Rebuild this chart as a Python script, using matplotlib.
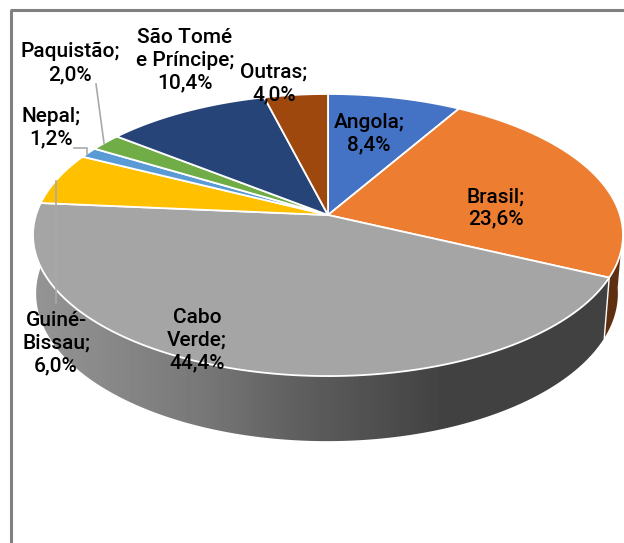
import numpy as np
import matplotlib
matplotlib.use('Agg')
import matplotlib.pyplot as plt
from matplotlib.patches import Polygon

# dados
labels = ['Angola;', 'Brasil;', 'Cabo\nVerde;', 'Guiné-\nBissau;', 'Nepal;',
          'Paquistão;', 'São Tomé\ne Príncipe;', 'Outras;']
values = [8.4, 23.6, 44.4, 6.0, 1.2, 2.0, 10.4, 4.0]
colors = ['#4472c4', '#ed7d31', '#a5a5a5', '#ffc000', '#5b9bd5', '#70ad47', '#264478', '#9e480e']
wall_colors = {1: '#5e2f10'}

# posicao dos rotulos
label_x = [369, 496, 197, 56, 51, 70, 185, 274]
label_y = [134, 208, 340, 343, 128, 63, 60, 83]

# geometria da pizza em perspectiva
cx, cy = 328, 215
a, b, k = 292, 138.2, 0.142
depth = 57.5
scale_x, scale_y = 0.986, 1.047


def project(theta, r=1.0, bottom=False):
    u = r * np.sin(theta)
    v = r * np.cos(theta)
    w = 1 + k * v
    x = a * u / w
    y = b * v / w
    if bottom:
        return cx - 1 + scale_x * x, cy - scale_y * y + depth
    return cx + x, cy - y


fig = plt.figure(figsize=(6.24, 5.43), dpi=100)
ax = fig.add_axes([0, 0, 1, 1])
ax.set_xlim(0, 624)
ax.set_ylim(543, 0)
ax.axis('off')

edges = np.radians(np.cumsum([0] + values) * 3.6)

# parede lateral (Cabo Verde com gradiente)
t = np.linspace(edges[2], edges[3], 200)
xt, yt = project(t)
xb, yb = project(t, bottom=True)
wall = Polygon(np.column_stack([np.r_[xt, xb[::-1]], np.r_[yt, yb[::-1]]]),
               closed=True, transform=ax.transData, fc='none', ec='none')
ax.add_patch(wall)
grad_x = np.arange(0, 624)
grad = np.interp(grad_x, [35, 100, 200, 300, 440, 624], [0.58, 0.54, 0.47, 0.37, 0.26, 0.26])
img = ax.imshow(grad[np.newaxis, :], cmap='gray', vmin=0, vmax=1, extent=[0, 624, 543, 0],
                aspect='auto', zorder=1)
img.set_clip_path(wall)

# parede lateral do Brasil
t = np.linspace(np.radians(96), edges[2], 60)
xt, yt = project(t)
xb, yb = project(t, bottom=True)
ax.fill(np.r_[xt, xb[::-1]], np.r_[yt, yb[::-1]], color=wall_colors[1], lw=0, zorder=1)
x0, y0 = project(edges[2])
x1, y1 = project(edges[2], bottom=True)
ax.plot([x0, x1], [y0, y1], color='white', lw=1, zorder=2)

# fatias
for i in range(len(values)):
    t = np.linspace(edges[i], edges[i + 1], 120)
    x, y = project(t)
    ax.fill(np.r_[cx, x], np.r_[cy, y], fc=colors[i], ec='white', lw=1.3, joinstyle='round', zorder=3)

# linhas de chamada
leader = '#a9a9a9'
ax.plot([96, 104], [84, 143], color=leader, lw=1.2, zorder=4)
ax.plot([74, 87, 87], [148, 148, 154], color=leader, lw=1.2, zorder=4)
ax.plot([56, 56], [181, 303], color=leader, lw=1.2, zorder=4)

# rotulos
for i in range(len(values)):
    txt = labels[i] + '\n' + f'{values[i]:.1f}'.replace('.', ',') + '%'
    ax.text(label_x[i], label_y[i], txt, ha='center', va='center', fontsize=15,
            family='Roboto', weight='medium', color='black', linespacing=1.25, zorder=5)

# moldura
ax.plot([11, 11], [543, 10], color='#808080', lw=2.2, zorder=0, solid_capstyle='butt')
ax.plot([10, 624], [10, 10], color='#808080', lw=2.2, zorder=0, solid_capstyle='butt')

fig.savefig('out.png', dpi=100)
